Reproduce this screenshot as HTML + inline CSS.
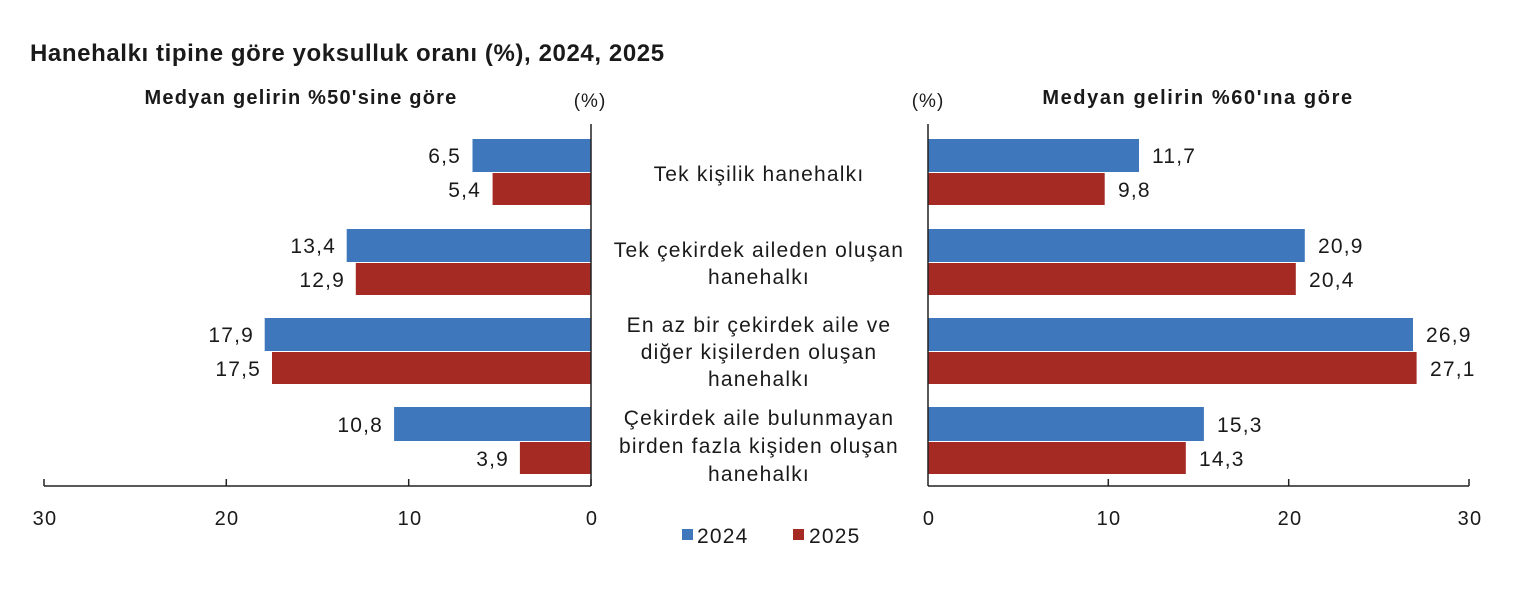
<!DOCTYPE html>
<html><head><meta charset="utf-8"><style>
body{margin:0;background:#fff;}
svg text{font-family:"Liberation Sans",sans-serif;fill:#1a1a1a;}
</style></head><body>
<svg width="1536" height="588" viewBox="0 0 1536 588" xmlns="http://www.w3.org/2000/svg">
<text x="30" y="61" font-size="24" font-weight="bold" fill="#000" letter-spacing="0.6">Hanehalkı tipine göre yoksulluk oranı (%), 2024, 2025</text>
<text x="301" y="104" font-size="20" font-weight="bold" text-anchor="middle" fill="#222" letter-spacing="1.2">Medyan gelirin %50'sine göre</text>
<text x="590" y="107" font-size="19" text-anchor="middle" letter-spacing="1">(%)</text>
<text x="928" y="107" font-size="19" text-anchor="middle" letter-spacing="1">(%)</text>
<text x="1198" y="104" font-size="20" font-weight="bold" text-anchor="middle" fill="#222" letter-spacing="1.6">Medyan gelirin %60'ına göre</text>
<g font-size="21" letter-spacing="1.2">
<rect x="472.5" y="139" width="118.5" height="33" fill="#3f77bd"/>
<rect x="492.6" y="173" width="98.4" height="32" fill="#a52a24"/>
<rect x="346.7" y="229" width="244.3" height="33" fill="#3f77bd"/>
<rect x="355.8" y="263" width="235.2" height="32" fill="#a52a24"/>
<rect x="264.7" y="318" width="326.3" height="33" fill="#3f77bd"/>
<rect x="272" y="352" width="319" height="32" fill="#a52a24"/>
<rect x="394.1" y="407" width="196.9" height="34" fill="#3f77bd"/>
<rect x="519.9" y="442" width="71.1" height="32" fill="#a52a24"/>
<g text-anchor="end">
<text x="461" y="163">6,5</text><text x="481" y="197">5,4</text>
<text x="336" y="253">13,4</text><text x="345" y="287">12,9</text>
<text x="254" y="342">17,9</text><text x="261" y="376">17,5</text>
<text x="383" y="432">10,8</text><text x="509" y="466">3,9</text>
</g>
<rect x="928" y="139" width="211" height="33" fill="#3f77bd"/>
<rect x="928" y="173" width="176.7" height="32" fill="#a52a24"/>
<rect x="928" y="229" width="376.8" height="33" fill="#3f77bd"/>
<rect x="928" y="263" width="367.8" height="32" fill="#a52a24"/>
<rect x="928" y="318" width="485" height="33" fill="#3f77bd"/>
<rect x="928" y="352" width="488.6" height="32" fill="#a52a24"/>
<rect x="928" y="407" width="275.9" height="34" fill="#3f77bd"/>
<rect x="928" y="442" width="257.8" height="32" fill="#a52a24"/>
<text x="1152" y="163">11,7</text><text x="1118" y="197">9,8</text>
<text x="1318" y="253">20,9</text><text x="1309" y="287">20,4</text>
<text x="1426" y="342">26,9</text><text x="1430" y="376">27,1</text>
<text x="1217" y="432">15,3</text><text x="1199" y="466">14,3</text>
<g text-anchor="middle">
<text x="759" y="181">Tek kişilik hanehalkı</text>
<text x="759" y="257">Tek çekirdek aileden oluşan</text>
<text x="759" y="284">hanehalkı</text>
<text x="759" y="332">En az bir çekirdek aile ve</text>
<text x="759" y="359">diğer kişilerden oluşan</text>
<text x="759" y="386">hanehalkı</text>
<text x="759" y="425">Çekirdek aile bulunmayan</text>
<text x="759" y="453">birden fazla kişiden oluşan</text>
<text x="759" y="481">hanehalkı</text>
</g>
<g stroke="#222" stroke-width="1.5" fill="none">
<line x1="591" y1="124" x2="591" y2="486"/>
<line x1="44" y1="486" x2="591" y2="486"/>
<line x1="928" y1="124" x2="928" y2="486"/>
<line x1="928" y1="486" x2="1469" y2="486"/>
<line x1="44" y1="479" x2="44" y2="486"/><line x1="226.3" y1="479" x2="226.3" y2="486"/><line x1="408.7" y1="479" x2="408.7" y2="486"/><line x1="591" y1="479" x2="591" y2="486"/>
<line x1="1108.3" y1="479" x2="1108.3" y2="486"/><line x1="1288.7" y1="479" x2="1288.7" y2="486"/><line x1="1469" y1="479" x2="1469" y2="486"/>
</g>
<g text-anchor="middle" font-size="20">
<text x="45" y="525">30</text><text x="227" y="525">20</text><text x="410" y="525">10</text><text x="592" y="525">0</text>
<text x="929" y="525">0</text><text x="1109" y="525">10</text><text x="1290" y="525">20</text><text x="1470" y="525">30</text>
</g>
<rect x="682" y="529" width="11" height="11" fill="#3f77bd"/>
<text x="697" y="543">2024</text>
<rect x="793" y="529" width="11" height="11" fill="#a52a24"/>
<text x="809" y="543">2025</text>
</g>
</svg>
</body></html>
